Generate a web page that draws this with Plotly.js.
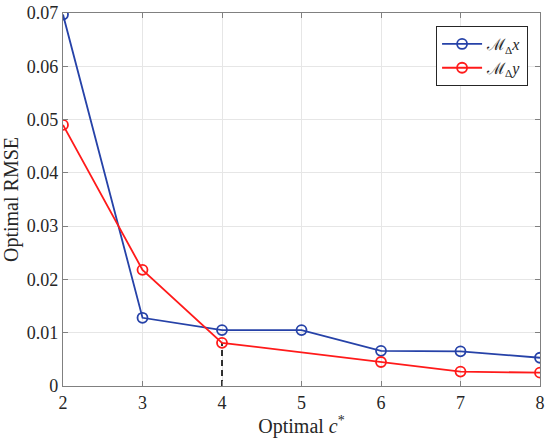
<!DOCTYPE html>
<html>
<head>
<meta charset="utf-8">
<script src="https://cdn.plot.ly/plotly-3.0.1.min.js"></script>
<style>html,body{margin:0;padding:0;background:#fff;}#chart{width:550px;height:439px;}</style>
</head>
<body>
<div id="chart"></div>
<script>
var cBlue = [2, 3, 4, 5, 6, 7, 8];
var rmseX = [0.0697, 0.0128, 0.0105, 0.0105, 0.0066, 0.0065, 0.0053];
var cRed = [2, 3, 4, 6, 7, 8];
var rmseY = [0.0490, 0.0218, 0.0081, 0.0045, 0.0027, 0.0025];
var markC = [4, 4];
var markV = [0, 0.0081];
var yTicks = [0, 0.01, 0.02, 0.03, 0.04, 0.05, 0.06, 0.07];
var yTickText = ['0', '0.01', '0.02', '0.03', '0.04', '0.05', '0.06', '0.07'];
var xTicks = [2, 3, 4, 5, 6, 7, 8];

var font = 'Liberation Serif, Times New Roman, serif';
var traces = [
  {x: markC, y: markV, mode: 'lines', line: {color: '#000', width: 1.6, dash: '6px,4px'}, showlegend: false, hoverinfo: 'skip'},
  {x: cBlue, y: rmseX, mode: 'lines+markers', name: 'ℳ<sub>Δ</sub><i>x</i>',
   line: {color: '#2642a8', width: 1.8},
   marker: {symbol: 'circle-open', size: 10, color: '#2642a8', line: {width: 1.8, color: '#2642a8'}}},
  {x: cRed, y: rmseY, mode: 'lines+markers', name: 'ℳ<sub>Δ</sub><i>y</i>',
   line: {color: '#ff1a1a', width: 1.8},
   marker: {symbol: 'circle-open', size: 10, color: '#ff1a1a', line: {width: 1.8, color: '#ff1a1a'}}}
];
var layout = {
  width: 550, height: 439,
  margin: {l: 63, r: 10, t: 13, b: 53},
  paper_bgcolor: '#fff', plot_bgcolor: '#fff',
  font: {family: font, size: 18, color: '#262626'},
  xaxis: {range: [2, 8], tickvals: xTicks, ticks: 'inside', ticklen: 5, tickcolor: '#808080',
    showline: true, linecolor: '#808080', linewidth: 1.2, mirror: 'ticks',
    showgrid: true, gridcolor: '#e6e6e6', zeroline: false,
    tickfont: {family: font, size: 18, color: '#262626'},
    title: {text: 'Optimal <i>c</i><sup>*</sup>', font: {family: font, size: 20, color: '#262626'}, standoff: 4}},
  yaxis: {range: [0, 0.07], tickvals: yTicks, ticktext: yTickText, ticks: 'inside', ticklen: 5, tickcolor: '#808080',
    showline: true, linecolor: '#808080', linewidth: 1.2, mirror: 'ticks',
    showgrid: true, gridcolor: '#e6e6e6', zeroline: false,
    tickfont: {family: font, size: 18, color: '#262626'},
    title: {text: 'Optimal RMSE', font: {family: font, size: 20, color: '#262626'}, standoff: 4}},
  legend: {x: 0.975, y: 0.965, xanchor: 'right', yanchor: 'top', bgcolor: '#fff',
    bordercolor: '#262626', borderwidth: 1, font: {family: font, size: 16, color: '#262626'},
    tracegroupgap: 0, itemwidth: 40},
  showlegend: true
};
Plotly.newPlot('chart', traces, layout, {displayModeBar: false, staticPlot: true});
</script>
</body>
</html>
